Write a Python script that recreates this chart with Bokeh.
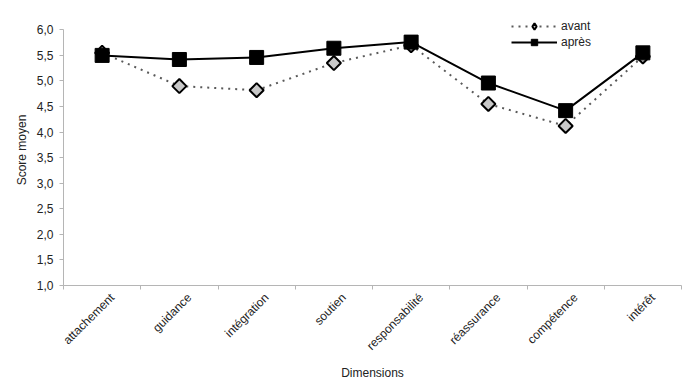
from bokeh.plotting import figure
from bokeh.models import FixedTicker, CustomJSTickFormatter, Range1d, Legend, LegendItem
from bokeh.embed import file_html
from bokeh.resources import INLINE

categories = ["attachement", "guidance", "intégration", "soutien",
              "responsabilité", "réassurance", "compétence", "intérêt"]
avant = [5.55, 4.90, 4.82, 5.35, 5.70, 4.55, 4.12, 5.48]
apres = [5.50, 5.42, 5.46, 5.64, 5.76, 4.96, 4.42, 5.55]
y_ticks = [1.0, 1.5, 2.0, 2.5, 3.0, 3.5, 4.0, 4.5, 5.0, 5.5, 6.0]

xs = [i + 0.5 for i in range(len(categories))]
label_shift = 0.13  # rotated labels end slightly right of the category centre
label_pos = [x + label_shift for x in xs]
FONT = "Liberation Sans"
AXIS_COL = "#b5b5b5"
TEXT_COL = "#222222"

p = figure(width=700, height=389, output_backend="svg", toolbar_location=None,
           x_range=Range1d(0, len(categories)), y_range=Range1d(1, 6.3),
           min_border_left=63, min_border_right=19, min_border_top=14, min_border_bottom=104)
p.outline_line_color = None
p.xgrid.visible = False
p.ygrid.visible = False

# y axis
p.yaxis.ticker = FixedTicker(ticks=y_ticks)
p.yaxis.bounds = (1, 6)
p.yaxis.formatter = CustomJSTickFormatter(code="return tick.toFixed(1).replace('.', ',');")
p.yaxis.axis_label = "Score moyen"
p.yaxis.axis_label_text_font = FONT
p.yaxis.axis_label_text_font_size = "12px"
p.yaxis.axis_label_text_font_style = "normal"
p.yaxis.axis_label_text_color = TEXT_COL
p.yaxis.major_label_text_font = FONT
p.yaxis.major_label_text_font_size = "12px"
p.yaxis.major_label_text_color = TEXT_COL
p.yaxis.axis_line_color = AXIS_COL
p.yaxis.major_tick_line_color = AXIS_COL
p.yaxis.major_tick_in = 0
p.yaxis.major_tick_out = 4
p.yaxis.minor_tick_line_color = None
p.yaxis.major_label_standoff = 6

# x axis
p.xaxis.ticker = FixedTicker(ticks=label_pos, minor_ticks=list(range(len(categories) + 1)))
p.xaxis.major_label_overrides = {x: c for x, c in zip(label_pos, categories)}
p.xaxis.major_label_orientation = 0.785398
p.xaxis.major_label_text_font = FONT
p.xaxis.major_label_text_font_size = "12px"
p.xaxis.major_label_text_color = TEXT_COL
p.xaxis.major_tick_line_color = None
p.xaxis.minor_tick_line_color = AXIS_COL
p.xaxis.minor_tick_in = 0
p.xaxis.minor_tick_out = 4
p.xaxis.axis_line_color = AXIS_COL
p.xaxis.axis_label = "Dimensions"
p.xaxis.axis_label_text_font = FONT
p.xaxis.axis_label_text_font_size = "12px"
p.xaxis.axis_label_text_font_style = "normal"
p.xaxis.axis_label_text_color = TEXT_COL
p.xaxis.major_label_standoff = 4

# series
l1 = p.line(xs, avant, line_color="#5a5a5a", line_width=2, line_dash="2 5")
# plain diamond (hidden under the rotated square) used for the legend glyph
d_leg = p.scatter(xs, avant, marker="diamond", size=10, fill_color="#c8c8c8",
                  line_color="black", line_width=2)
s1 = p.scatter(xs, avant, marker="square", angle=45, angle_units="deg", size=10,
               fill_color="#c8c8c8", line_color="black", line_width=2)
l2 = p.line(xs, apres, line_color="black", line_width=2)
s2 = p.scatter(xs, apres, marker="square", size=14, fill_color="black", line_color="black")

legend = Legend(items=[LegendItem(label="avant", renderers=[l1, d_leg]),
                       LegendItem(label="après", renderers=[l2, s2])],
                location=(448, 235), orientation="vertical",
                border_line_color=None, background_fill_alpha=0,
                padding=0, margin=0, spacing=0,
                glyph_width=46, glyph_height=16, label_height=16,
                label_standoff=4, label_text_font=FONT, label_text_font_size="12px",
                label_text_color=TEXT_COL)
p.add_layout(legend, "center")

open("out.html", "w").write(file_html(p, INLINE))
